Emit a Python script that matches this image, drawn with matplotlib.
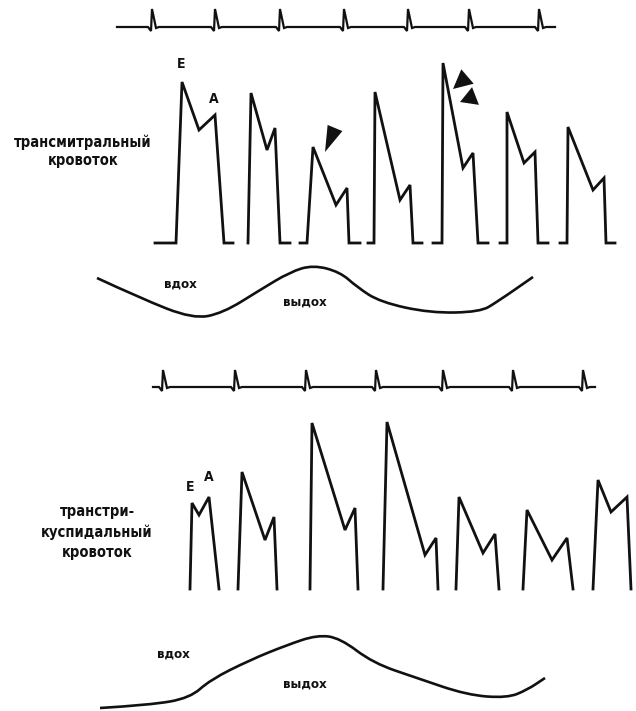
import numpy as np
import matplotlib
matplotlib.use("Agg")
import matplotlib.pyplot as plt
from matplotlib.path import Path
from matplotlib.patches import PathPatch, Polygon

INK = "#111111"

# --- ECG strips: R-wave positions (px along the strip) ---
ecg_top_span = [117, 555]
ecg_top_r = [152, 215, 280, 344, 408, 469, 539]
ecg_bot_span = [153, 595]
ecg_bot_r = [163, 235, 306, 376, 443, 513, 583]

# --- transmitral flow: per beat ---
mv_start = [155, 248, 300, 368, 433, 500, 560]   # baseline begins
mv_onset = [176, 248, 307, 374, 442, 507, 567]
mv_e_t = [182, 251, 313, 375, 443, 507, 568]
mv_e = [161, 150, 96, 151, 180, 131, 116]        # E height
mv_dip_t = [199, 267, 336, 400, 463, 524, 593]
mv_dip = [113, 93, 38, 43, 75, 80, 53]
mv_a_t = [215, 275, 347, 410, 473, 535, 604]
mv_a = [128, 115, 55, 58, 90, 91, 65]            # A height
mv_close = [224, 280, 349, 413, 478, 538, 606]
mv_end = [233, 290, 360, 422, 488, 548, 615]

# --- transtricuspid flow: per beat ---
tv_onset = [190, 238, 310, 383, 456, 523, 593]
tv_e_t = [192, 242, 312, 387, 459, 527, 598]
tv_e = [86, 117, 166, 167, 92, 79, 109]
tv_dip_t = [199, 265, 345, 425, 483, 552, 611]
tv_dip = [74, 49, 59, 34, 36, 29, 77]
tv_a_t = [209, 274, 355, 436, 495, 567, 627]
tv_a = [92, 72, 81, 51, 55, 51, 92]
tv_close = [219, 277, 358, 438, 499, 573, 631]

# --- respiration traces ---
resp_top_x = [97, 140, 193, 223, 260, 290, 313, 340, 357, 380, 430, 480, 497, 533]
resp_top_y = [278, 298, 319, 313, 290, 272, 265, 272, 287, 302, 313, 312, 302, 277]
resp_bot_x = [100, 150, 190, 210, 250, 287, 317, 340, 373, 417, 467, 507, 527, 545]
resp_bot_y = [708, 705, 698, 680, 660, 645, 635, 638, 663, 678, 695, 698, 690, 678]

# arrowheads on the transmitral strip
arrow_tip_x = [325, 453, 460]
arrow_tip_y = [152, 89, 102]
arrow_dx = [10, 14.5, 15.5]
arrow_dy = [-24, -12.5, -6]
arrow_w = [16, 19, 19]

MV_BASE = 243
TV_BASE = 589
ECG_TOP_BASE = 27
ECG_BOT_BASE = 387


def ecg(ax, span, r_pos, base, h):
    xs, ys = [span[0]], [base]
    for r in r_pos:
        xs += [r - 4, r - 1, r, r + 4, r + 7]
        ys += [base, base + 4, base - h, base + 1, base]
    xs.append(span[1])
    ys.append(base)
    ax.plot(xs, ys, color=INK, lw=1.6, solid_joinstyle="miter")


def smooth(ax, xs, ys):
    pts = np.column_stack([xs, ys]).astype(float)
    verts = [pts[0]]
    codes = [Path.MOVETO]
    for i in range(1, len(pts) - 1):
        verts += [pts[i], (pts[i] + pts[i + 1]) / 2]
        codes += [Path.CURVE3, Path.CURVE3]
    verts.append(pts[-1])
    codes.append(Path.LINETO)
    ax.add_patch(PathPatch(Path(verts, codes), fill=False, color=INK, lw=1.9))


fig = plt.figure(figsize=(6.36, 7.11), dpi=100)
ax = fig.add_axes([0, 0, 1, 1])
ax.set_xlim(0, 636)
ax.set_ylim(711, 0)
ax.axis("off")

ecg(ax, ecg_top_span, ecg_top_r, ECG_TOP_BASE, 18)
ecg(ax, ecg_bot_span, ecg_bot_r, ECG_BOT_BASE, 17)

for i in range(len(mv_onset)):
    xs = [mv_start[i], mv_onset[i], mv_e_t[i], mv_dip_t[i], mv_a_t[i], mv_close[i], mv_end[i]]
    ys = [0, 0, mv_e[i], mv_dip[i], mv_a[i], 0, 0]
    ax.plot(xs, MV_BASE - np.array(ys), color=INK, lw=2.0, solid_joinstyle="miter")

for i in range(len(tv_onset)):
    xs = [tv_onset[i], tv_e_t[i], tv_dip_t[i], tv_a_t[i], tv_close[i]]
    ys = [0, tv_e[i], tv_dip[i], tv_a[i], 0]
    ax.plot(xs, TV_BASE - np.array(ys), color=INK, lw=2.0, solid_joinstyle="miter")

for tx, ty, dx, dy, w in zip(arrow_tip_x, arrow_tip_y, arrow_dx, arrow_dy, arrow_w):
    d = np.array([dx, dy])
    n = np.array([-dy, dx]) / np.hypot(dx, dy) * w / 2
    tip = np.array([tx, ty])
    ax.add_patch(Polygon([tip, tip + d + n, tip + d - n], closed=True,
                         color=INK, lw=0))

smooth(ax, resp_top_x, resp_top_y)
smooth(ax, resp_bot_x, resp_bot_y)

kw = dict(family=["DejaVu Sans"], stretch="condensed", weight="bold",
          color=INK, ha="center", va="center")
ax.text(83, 151, "трансмитральный\nкровоток", fontsize=10.5, linespacing=1.25, **kw)
ax.text(97, 532, "транстри-\nкуспидальный\nкровоток", fontsize=10.5, linespacing=1.45, **kw)
ax.text(181, 64, "E", fontsize=10, **kw)
ax.text(214, 99, "A", fontsize=10, **kw)
ax.text(190, 487, "E", fontsize=10, **kw)
ax.text(209, 477, "A", fontsize=10, **kw)
ax.text(180, 284, "вдох", fontsize=9.5, **kw)
ax.text(305, 302, "выдох", fontsize=9.5, **kw)
ax.text(173, 654, "вдох", fontsize=9.5, **kw)
ax.text(305, 684, "выдох", fontsize=9.5, **kw)

fig.savefig("out.png", dpi=100)
